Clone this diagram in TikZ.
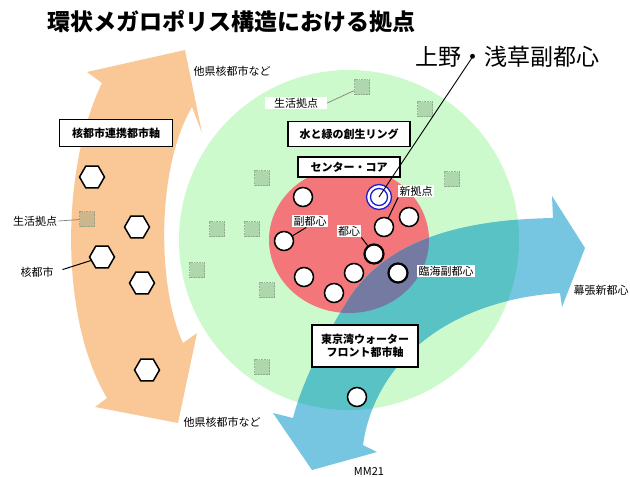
\documentclass[tikz,border=0pt]{standalone}
\usepackage{fontspec}
\setmainfont{Noto Sans CJK JP}
\usetikzlibrary{shapes.geometric}
\definecolor{ringgreen}{RGB}{204,250,204}
\definecolor{corered}{RGB}{242,118,122}
\definecolor{axisorange}{RGB}{250,200,150}
\definecolor{bayblue}{RGB}{118,198,226}
\definecolor{tealmix}{RGB}{88,194,196}
\definecolor{purpmix}{RGB}{116,122,162}
\definecolor{ucblue}{RGB}{30,30,210}
\definecolor{sqfill}{RGB}{120,150,120}
\definecolor{sqline}{RGB}{130,150,130}
\newcommand\bluepath{(585,248) -- (552,196) -- (553,218) .. controls (450,220) and (380,245) .. (345,305) .. controls (320,345) and (300,390) .. (293,418) -- (273,413) -- (312,470) -- (377,452) -- (363,445) .. controls (375,360) and (450,300) .. (560,293) -- (562,307) -- cycle}
\begin{document}
\begin{tikzpicture}[x=1pt,y=-1pt,
  hub/.style={circle,draw=black,line width=1.5pt,fill=white,minimum size=19pt,inner sep=0pt},
  hubthick/.style={hub,line width=2.2pt},
  corecity/.style={regular polygon,regular polygon sides=6,draw=black,line width=1.5pt,fill=white,minimum size=25pt,inner sep=0pt},
  lifesq/.style={rectangle,minimum size=15pt,inner sep=0pt,fill=sqfill,fill opacity=0.35,draw=sqline,draw opacity=0.7,densely dotted,line width=0.6pt},
  lbl/.style={fill=white,inner sep=1.2pt,font=\fontsize{11}{13}\selectfont},
  tagbox/.style={draw=black,line width=1.6pt,fill=white,font=\bfseries\fontsize{11}{13}\selectfont,inner sep=0pt,align=center}]
\useasboundingbox (0,0) rectangle (630,477);
\fill[white] (0,0) rectangle (630,477);
% orange axis
\fill[axisorange] (185,50) -- (202,133) -- (192,107) .. controls (155,170) and (158,290) .. (183,343) -- (197,333) -- (178,423) -- (95,407) -- (107,398) .. controls (60,320) and (60,170) .. (102,83) -- (87,72) -- cycle;
% ring and core
\fill[ringgreen] (349,240) circle[radius=170];
\fill[corered] (349,240) ellipse[x radius=80,y radius=73];
% bay axis
\fill[bayblue] \bluepath;
\begin{scope}
  \clip \bluepath;
  \fill[tealmix] (349,240) circle[radius=170];
  \fill[purpmix] (349,240) ellipse[x radius=80,y radius=73];
\end{scope}
% life squares
\node[lifesq] (sq1) at (362,87) {};
\node[lifesq] (sq2) at (425,109) {};
\node[lifesq] (sq3) at (262,178) {};
\node[lifesq] (sq4) at (452,179) {};
\node[lifesq] (sq5) at (217,229) {};
\node[lifesq] (sq6) at (252,229) {};
\node[lifesq] (sq7) at (197,270) {};
\node[lifesq] (sq8) at (267,290) {};
\node[lifesq] (sq9) at (262,367) {};
\node[lifesq] (sqL) at (87,219) {};
% core cities
\node[corecity] (hx1) at (92,177) {};
\node[corecity] (hx2) at (137,227) {};
\node[corecity] (hx3) at (102,257) {};
\node[corecity] (hx4) at (142,283) {};
\node[corecity] (hx5) at (147,370) {};
% hubs
\node[hub] (h1) at (303,197) {};
\node[hub] (h3) at (409,217) {};
\node[hub] (h4) at (384,227) {};
\node[hub] (h5) at (284,241) {};
\node[hubthick] (h6) at (374,254) {};
\node[hub] (h7) at (354,273) {};
\node[hub] (h8) at (304,277) {};
\node[hub] (h9) at (334,293) {};
\node[hubthick] (h10) at (398,273) {};
\node[hub] (h11) at (357,397) {};
\node[circle,draw=ucblue,line width=1.3pt,fill=white,minimum size=25pt,inner sep=0pt] (uc) at (379,197) {};
\node[circle,draw=ucblue,line width=1.3pt,fill=white,minimum size=17pt,inner sep=0pt] (ucin) at (379,197) {};
% labels
\node[lbl] (oth1) at (232,71) {他県核都市など};
\node[lbl] (oth2) at (222,422) {他県核都市など};
\node[lbl,inner xsep=9pt] (sei1) at (296,103) {生活拠点};
\node[lbl] (sei2) at (35,221) {生活拠点};
\node[lbl] (kaku) at (37,272) {核都市};
\node[lbl] (fuku) at (310,221) {副都心};
\node[lbl] (tosh) at (349,231) {都心};
\node[lbl] (shin) at (416,191) {新拠点};
\node[lbl] (rink) at (446,271) {臨海副都心};
\node[lbl] (maku) at (601,290) {幕張新都心};
\node[lbl] (mm) at (369,471) {MM21};
% leader lines
\draw[gray,line width=0.7pt] (sei1.east) -- (sq1);
\draw[gray,line width=0.7pt] (sei2.east) -- (sqL);
\draw[line width=1pt,shorten <=8pt] (kaku.east) -- (hx3);
\draw[line width=1pt] (fuku.-120) -- (h5);
\draw[line width=1pt] (tosh.south east) -- (h6);
\draw[line width=1pt] (shin.south west) -- (h4);
% boxes
\node[tagbox,minimum width=113pt,minimum height=27pt] (bx1) at (116,133) {核都市連携都市軸};
\node[tagbox,minimum width=122pt,minimum height=25pt] (bx2) at (349,134) {水と緑の創生リング};
\node[tagbox,minimum width=102pt,minimum height=20pt] (bx3) at (349,167) {センター・コア};
\node[tagbox,minimum width=106pt,minimum height=42pt] (bx4) at (365,346) {東京湾ウォーター\\フロント都市軸};
% titles
\node[font=\bfseries\fontsize{23}{27}\selectfont,anchor=west,inner sep=0pt] (title) at (47,22) {環状メガロポリス構造における拠点};
\node[font=\fontsize{23}{27}\selectfont,anchor=west,inner sep=0pt] (ueno) at (415,57) {上野・浅草副都心};
\coordinate (uenodot) at ([xshift=57.5pt]ueno.west);
\draw[line width=0.9pt] (uc.center) -- (uenodot);
\end{tikzpicture}
\end{document}
